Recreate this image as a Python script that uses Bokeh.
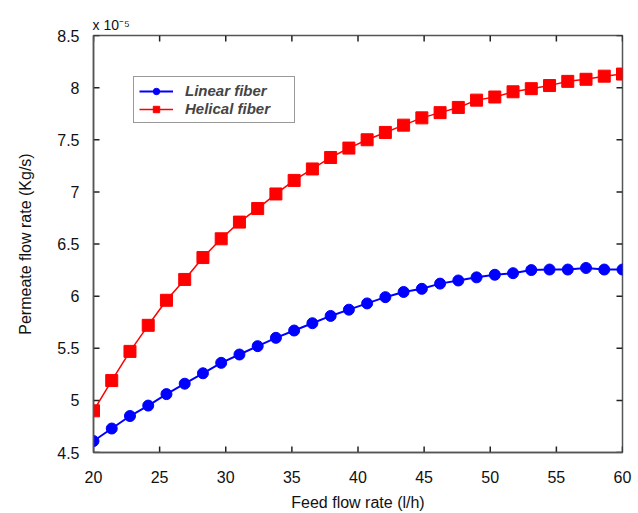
from bokeh.plotting import figure
from bokeh.models import Legend, LegendItem, Title, FixedTicker, Range1d
from bokeh.embed import file_html
from bokeh.resources import INLINE

feed = [20 + 40 * i / 29 for i in range(30)]
linear = [4.61, 4.73, 4.85, 4.95, 5.06, 5.16, 5.26, 5.36, 5.44, 5.52,
          5.60, 5.67, 5.74, 5.81, 5.87, 5.93, 5.99, 6.04, 6.07, 6.12,
          6.15, 6.18, 6.205, 6.22, 6.25, 6.255, 6.255, 6.27, 6.255, 6.255]
helical = [4.90, 5.19, 5.47, 5.72, 5.96, 6.16, 6.37, 6.55, 6.71, 6.84,
           6.98, 7.11, 7.22, 7.33, 7.42, 7.50, 7.57, 7.64, 7.71, 7.76,
           7.81, 7.88, 7.91, 7.96, 7.99, 8.02, 8.06, 8.08, 8.11, 8.13]
xticks = [20, 25, 30, 35, 40, 45, 50, 55, 60]
yticks = [4.5, 5, 5.5, 6, 6.5, 7, 7.5, 8, 8.5]
ytick_labels = {4.5: "4.5", 5: "5", 5.5: "5.5", 6: "6", 6.5: "6.5", 7: "7", 7.5: "7.5", 8: "8", 8.5: "8.5"}
x_lo, x_hi = 20, 60
y_lo, y_hi = 4.5, 8.5

FONT = "Liberation Sans"
AX = "#555555"
TK = "#222222"
W, H = 638, 513
ML, MR, MT, MB = 93, 16, 35, 61

p = figure(width=W, height=H, output_backend="svg", toolbar_location=None,
           x_range=Range1d(x_lo, x_hi), y_range=Range1d(y_lo, y_hi),
           min_border_left=ML, min_border_right=MR, min_border_top=MT, min_border_bottom=MB)
p.grid.visible = False
p.outline_line_color = AX
p.outline_line_width = 1.5
p.background_fill_color = "white"
p.border_fill_color = "white"

# inward ticks on all four sides (tick length of 6 px converted to data units)
TL = 6
dx = (x_hi - x_lo) * TL / (W - ML - MR)
dy = (y_hi - y_lo) * TL / (H - MT - MB)
n_x, n_y = len(xticks), len(yticks)
p.segment(x0=xticks, y0=[y_lo] * n_x, x1=xticks, y1=[y_lo + dy] * n_x, line_color=TK, line_width=1.5)
p.segment(x0=xticks, y0=[y_hi] * n_x, x1=xticks, y1=[y_hi - dy] * n_x, line_color=TK, line_width=1.5)
p.segment(x0=[x_lo] * n_y, y0=yticks, x1=[x_lo + dx] * n_y, y1=yticks, line_color=TK, line_width=1.5)
p.segment(x0=[x_hi] * n_y, y0=yticks, x1=[x_hi - dx] * n_y, y1=yticks, line_color=TK, line_width=1.5)

lb = p.line(feed, linear, line_color="#0000FF", line_width=2)
cb = p.scatter(feed, linear, marker="circle", size=11, fill_color="#0000FF", line_color="#0000FF")
lr = p.line(feed, helical, line_color="#FF0000", line_width=1.5)
sr = p.scatter(feed, helical, marker="square", size=12, fill_color="#FF0000", line_color="#FF0000")

def style(ax):
    ax.axis_line_color = AX
    ax.axis_line_width = 1.5
    ax.major_tick_line_color = None
    ax.minor_tick_line_color = None
    ax.major_label_text_font = FONT
    ax.major_label_text_font_size = "16px"
    ax.major_label_text_color = "#111111"
    ax.axis_label_text_font = FONT
    ax.axis_label_text_font_size = "16px"
    ax.axis_label_text_font_style = "normal"
    ax.axis_label_text_color = "#111111"

p.xaxis.ticker = FixedTicker(ticks=xticks)
p.yaxis.ticker = FixedTicker(ticks=yticks)
p.yaxis.major_label_overrides = {k: v for k, v in ytick_labels.items()}
p.xaxis.axis_label = "Feed flow rate (l/h)"
p.yaxis.axis_label = "Permeate flow rate (Kg/s)"
style(p.xaxis[0])
style(p.yaxis[0])
p.xaxis.major_label_standoff = 12
p.yaxis.major_label_standoff = 8
p.xaxis.axis_label_standoff = 8
p.yaxis.axis_label_standoff = 20

title = Title(text="x 10\u207b\u2075", align="left", text_font=FONT,
              text_font_size="14px", text_font_style="normal", text_color="#111111",
              offset=-1, standoff=6)
p.add_layout(title, "above")

legend = Legend(items=[LegendItem(label="Linear fiber", renderers=[lb, cb]),
                       LegendItem(label="Helical fiber", renderers=[lr, sr])],
                location=(40, 329))
legend.label_text_font = FONT
legend.label_text_font_style = "bold italic"
legend.label_text_font_size = "15px"
legend.label_width = 104
legend.border_line_color = "#333333"
legend.border_line_width = 1
legend.glyph_width = 34
legend.glyph_height = 16
legend.spacing = 1
legend.padding = 5
legend.margin = 0
legend.label_standoff = 12
legend.background_fill_alpha = 1
p.add_layout(legend, "center")

open("out.html", "w").write(file_html(p, INLINE))
